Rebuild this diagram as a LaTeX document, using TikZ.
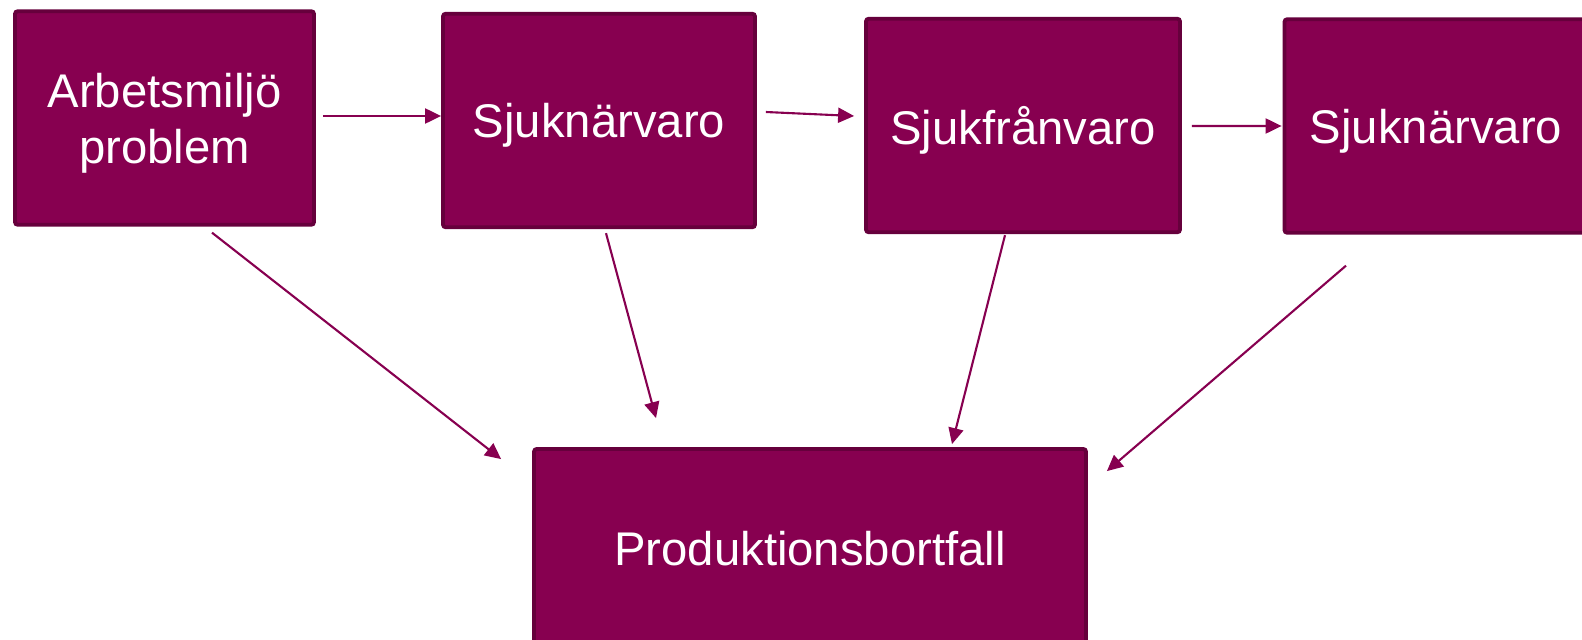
\documentclass[tikz,border=0pt]{standalone}
\usepackage{fontspec}
\setmainfont{Liberation Sans}
\usepackage{tikz}
\usetikzlibrary{arrows.meta,calc}
\definecolor{plum}{RGB}{135,0,80}
\definecolor{plumdark}{RGB}{102,0,60}

\begin{document}
\begin{tikzpicture}[x=0.02cm,y=-0.02cm,>={Triangle[length=0.32cm,width=0.3cm]}]
        \tikzstyle{box}=[rectangle,draw=plumdark,line width=2.2pt,fill=plum,text=white,align=center,inner sep=0pt,rounded corners=1.5pt,minimum height=4.27cm,text depth=0pt,font=\fontsize{26.9pt}{31.9pt}\selectfont]
        \tikzstyle{arr}=[->,draw=plum,line width=1.2pt]
        \useasboundingbox (0,0) rectangle (1582,639);
        \node[box,minimum width=5.98cm] (miljo) at (164.5,118) {Arbetsmiljö\\problem};
        \node[box,minimum width=6.24cm] (narvaro1) at (599,120.5) {Sjuknärvaro};
        \node[box,minimum width=6.28cm] (franvaro) at (1023,125.5) {Sjukfrånvaro};
        \node[box,minimum width=6.06cm] (narvaro2) at (1436,126) {Sjuknärvaro};
        \node[box,minimum width=11.04cm,minimum height=3.96cm] (bortfall) at (810,548) {Produktionsbortfall};
        % kedjan
        \draw[arr] ($(miljo.east)+(7,-2)$) -- ($(narvaro1.west)+(0,-4.5)$);
        \draw[arr] ($(narvaro1.east)+(9,-8.5)$) -- ($(franvaro.west)+(-10,-9.5)$);
        \draw[arr] ($(franvaro.east)+(10,0.5)$) -- ($(narvaro2.west)+(-1,0)$);
        % till produktionsbortfall
        \draw[arr] ($(miljo.south)+(47.5,6)$) -- ($(bortfall.north west)+(-31,12)$);
        \draw[arr] ($(narvaro1.south)+(7,4)$) -- ($(bortfall.north)+(-154,-29)$);
        \draw[arr] ($(franvaro.south)+(-18,1)$) -- ($(bortfall.north)+(142,-3)$);
        \draw[arr] ($(narvaro2.south)+(-90,31)$) -- ($(bortfall.north east)+(19,24)$);
\end{tikzpicture}
\end{document}
